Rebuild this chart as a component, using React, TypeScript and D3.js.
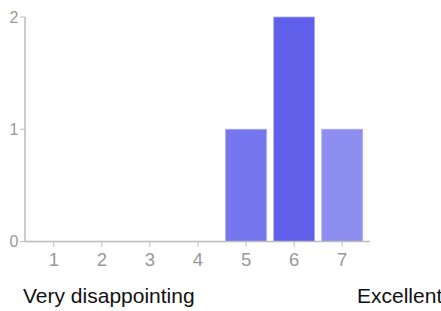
import React from "react";
import * as d3 from "d3";

const categories = ["1", "2", "3", "4", "5", "6", "7"];
const values = [0, 0, 0, 0, 1, 2, 1];
const colors = ["#7676ee", "#7676ee", "#7676ee", "#7676ee", "#7676ee", "#5f5fe9", "#8e8ef0"];
const yTicks = [0, 1, 2];
const lowLabel = "Very disappointing";
const highLabel = "Excellent";

export default function App() {
  const W = 441, H = 311;
  const x = d3.scaleBand<string>().domain(categories).range([30, 366]).paddingInner(0.15).paddingOuter(0.07);
  const y = d3.scaleLinear().domain([0, 2]).range([241.5, 17]);
  const axisColor = "#bbbbbb";
  const tickText = "#999999";
  return (
    <svg width={W} height={H} style={{ position: "absolute", left: 0, top: 0, fontFamily: "Liberation Sans, Arial, sans-serif" }}>
      {categories.map((c, i) => values[i] > 0 ? (
        <rect key={c} x={x(c)!} y={y(values[i])} width={x.bandwidth()} height={y(0) - y(values[i])} fill={colors[i]} stroke="#aaaaf5" strokeWidth={0.8} />
      ) : null)}
      <line x1={25} x2={25} y1={17} y2={242} stroke={axisColor} strokeWidth={1.5} />
      <line x1={25} x2={370} y1={241.5} y2={241.5} stroke={axisColor} strokeWidth={1.5} />
      {yTicks.map(t => (
        <g key={t}>
          <line x1={20} x2={25} y1={y(t)} y2={y(t)} stroke={axisColor} strokeWidth={1} />
          <text x={18.5} y={y(t)} dy="0.36em" textAnchor="end" fontSize={16} fill={tickText}>{t}</text>
        </g>
      ))}
      {categories.map(c => (
        <g key={c}>
          <line x1={x(c)! + x.bandwidth() / 2} x2={x(c)! + x.bandwidth() / 2} y1={242} y2={247} stroke={axisColor} strokeWidth={1} />
          <text x={x(c)! + x.bandwidth() / 2} y={266} textAnchor="middle" fontSize={18.5} fill={tickText}>{c}</text>
        </g>
      ))}
      <text x={23} y={303} fontSize={21} fill="#111">{lowLabel}</text>
      <text x={357} y={303} fontSize={21} fill="#111">{highLabel}</text>
    </svg>
  );
}
